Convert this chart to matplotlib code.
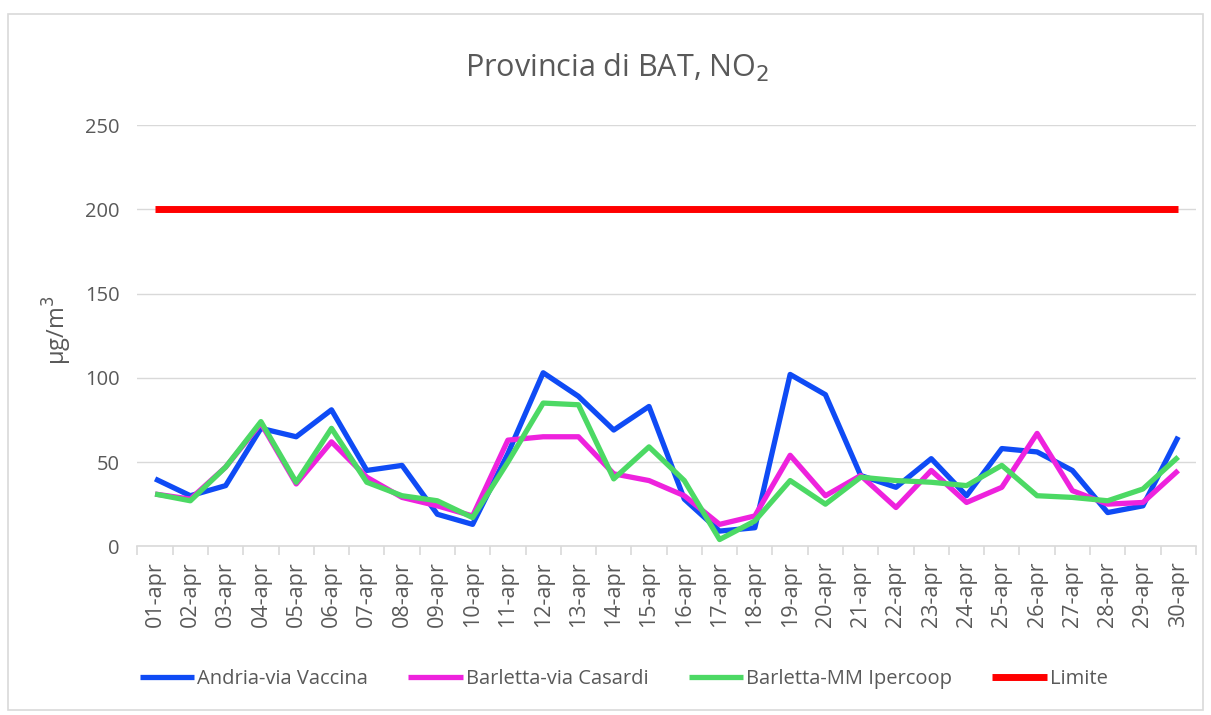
import numpy as np
import matplotlib
matplotlib.use("Agg")
from matplotlib import pyplot as plt
from matplotlib.patches import Rectangle

plt.rcParams['font.family'] = ['Liberation Sans Narrow', 'Open Sans', 'DejaVu Sans']

days = [f"{d:02d}-apr" for d in range(1, 31)]

andria = [40, 30, 36, 70, 65, 81, 45, 48, 19, 13,
          55, 103, 89, 69, 83, 28, 9, 11, 102, 90,
          42, 35, 52, 30, 58, 56, 45, 20, 24, 65]
barletta_casardi = [31, 28, 47, 73, 37, 62, 41, 29, 24, 18,
                    63, 65, 65, 43, 39, 30, 13, 18, 54, 30,
                    42, 23, 45, 26, 35, 67, 33, 25, 26, 45]
barletta_ipercoop = [31, 27, 47, 74, 38, 70, 38, 30, 27, 17,
                     50, 85, 84, 40, 59, 39, 4, 15, 39, 25,
                     41, 39, 38, 36, 48, 30, 29, 27, 34, 53]
limite = [200] * 30

series = [
    ("Andria-via Vaccina", andria, "#0F4BF5", 3.8),
    ("Barletta-via Casardi", barletta_casardi, "#EE22DD", 3.8),
    ("Barletta-MM Ipercoop", barletta_ipercoop, "#4CD964", 3.8),
    ("Limite", limite, "#FF0000", 5.0),
]

text_col = "#595959"
grid_col = "#D9D9D9"

fig = plt.figure(figsize=(12.11, 7.15), dpi=100)
ax = fig.add_axes([0.1135, 0.236, 0.874, 0.589])

x = np.arange(len(days))
for name, vals, col, lw in series:
    ax.plot(x, vals, color=col, lw=lw, label=name, solid_capstyle='butt')

ax.set_xlim(-0.5, len(days) - 0.5)
ax.set_ylim(0, 250)
ax.set_yticks(range(0, 251, 50))
ax.yaxis.grid(True, color=grid_col, lw=1)
ax.set_axisbelow(True)

for s in ["top", "right", "left"]:
    ax.spines[s].set_visible(False)
ax.spines["bottom"].set_color(grid_col)
ax.spines["bottom"].set_linewidth(1.2)

ax.set_xticks(x)
ax.set_xticklabels(days, rotation=90, fontsize=15.5, color=text_col)
ax.set_xticks(np.arange(-0.5, len(days), 1), minor=True)
ax.tick_params(axis='x', which='major', length=0, pad=11)
ax.tick_params(axis='x', which='minor', length=6.5, color=grid_col, width=1.2)
ax.tick_params(axis='y', length=0, labelsize=14.5, labelcolor=text_col, pad=13)

ax.set_ylabel("μg/m$^3$", fontsize=17, color=text_col)
ax.yaxis.set_label_coords(-0.06, 0.513)

fig.text(0.51, 0.905, "Provincia di BAT, NO$_2$", ha='center', va='center',
         fontsize=22, color=text_col)

leg = fig.legend(loc='center', bbox_to_anchor=(0.515, 0.05), ncol=4, frameon=False,
                 fontsize=14.5, handlelength=2.7, columnspacing=2.0, handletextpad=0.15)
for t in leg.get_texts():
    t.set_color(text_col)

fig.patches.append(Rectangle((0.007, 0.007), 0.986, 0.973, transform=fig.transFigure,
                             fill=False, edgecolor=grid_col, lw=1.2))

fig.savefig("out.png", dpi=100, facecolor="white")
